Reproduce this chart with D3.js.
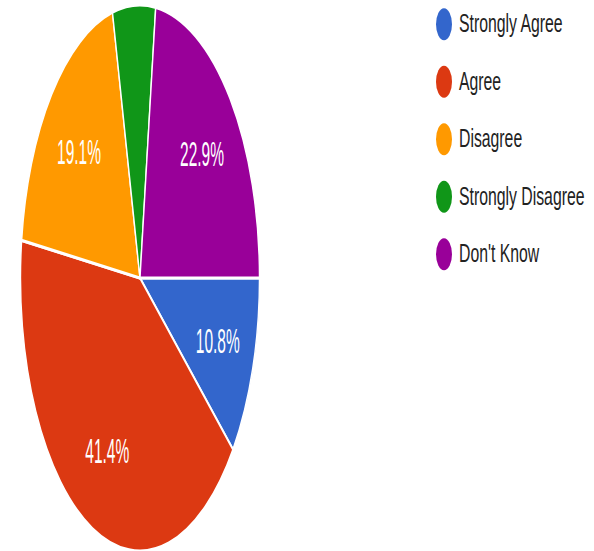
<!DOCTYPE html>
<html>
<head>
<meta charset="utf-8">
<script src="https://cdn.jsdelivr.net/npm/d3@7"></script>
<style>
  body { margin: 0; background: #fff; }
</style>
</head>
<body>
<script>
var categories = ['Strongly Agree', 'Agree', 'Disagree', 'Strongly Disagree', "Don't Know"];
var values = [10.8, 41.4, 19.1, 5.8, 22.9];
var colors = ['#3366cc', '#dc3912', '#ff9900', '#109618', '#990099'];

var width = 594;
var height = 551;

// the picture is squashed sideways, so the pie is drawn as a circle and stretched
var radius = 119.5;
var stretch = 2.285;
var cx = 140;
var cy = 278;

var svg = d3.select('body')
  .append('svg')
  .attr('width', width)
  .attr('height', height);

var pie = d3.pie()
  .sort(null)
  .value(function(d) { return d; })
  .startAngle(Math.PI / 2)
  .endAngle(Math.PI / 2 + 2 * Math.PI);

var arc = d3.arc()
  .innerRadius(0)
  .outerRadius(radius);

var labelArc = d3.arc()
  .innerRadius(radius * 0.69)
  .outerRadius(radius * 0.69);

var pieG = svg.append('g')
  .attr('transform', 'translate(' + cx + ',' + cy + ') scale(1,' + stretch + ')');

var slices = pie(values);

pieG.selectAll('path')
  .data(slices)
  .enter()
  .append('path')
  .attr('d', arc)
  .attr('fill', function(d, i) { return colors[i]; })
  .attr('stroke', '#fff')
  .attr('stroke-width', 1.4);

pieG.selectAll('text')
  .data(slices)
  .enter()
  .filter(function(d) { return d.data > 8; })
  .append('text')
  .attr('transform', function(d) {
    var c = labelArc.centroid(d);
    return 'translate(' + c[0] + ',' + c[1] + ')';
  })
  .attr('text-anchor', 'middle')
  .attr('dy', '0.35em')
  .attr('font-family', 'Liberation Sans, Arial, sans-serif')
  .attr('font-size', '15.5px')
  .attr('fill', '#fff')
  .text(function(d) { return d.data.toFixed(1) + '%'; });

// legend
var legendY = d3.scaleBand()
  .domain(categories)
  .range([-4.5, 283])
  .paddingInner(0);

var legend = svg.selectAll('.legend')
  .data(categories)
  .enter()
  .append('g')
  .classed('legend', true)
  .attr('transform', function(d) {
    return 'translate(444,' + (legendY(d) + legendY.bandwidth() / 2) + ')';
  });

legend.append('ellipse')
  .attr('rx', 8)
  .attr('ry', 16)
  .attr('fill', function(d, i) { return colors[i]; });

legend.append('text')
  .attr('transform', 'translate(15,8) scale(1,1.6)')
  .attr('font-family', 'Liberation Sans, Arial, sans-serif')
  .attr('font-size', '15.8px')
  .attr('fill', '#222')
  .text(function(d) { return d; });
</script>
</body>
</html>
